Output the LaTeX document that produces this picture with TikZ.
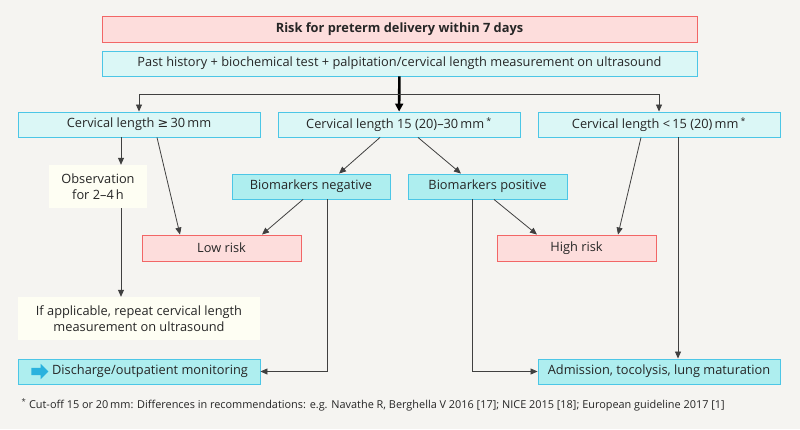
\documentclass[tikz,border=0pt]{standalone}
\usepackage{fontspec}
\setmainfont{Open Sans}
\newfontfamily\symfont{DejaVu Sans}
\usetikzlibrary{arrows.meta,shapes.arrows}

\definecolor{bg}{HTML}{F5F4F1}
\definecolor{riskfill}{HTML}{FDDDDC}
\definecolor{riskline}{HTML}{F26666}
\definecolor{stepfill}{HTML}{DBF7F6}
\definecolor{bmfill}{HTML}{AEEEEF}
\definecolor{stepline}{HTML}{4CC6E6}
\definecolor{notefill}{HTML}{FEFEF3}
\definecolor{iconblue}{HTML}{2AB2DE}
\colorlet{txt}{black!85}
\colorlet{link}{black!75}

\begin{document}
\begin{tikzpicture}[x=1pt, y=-1pt, font=\fontsize{12.8}{15.5}\selectfont, text=txt,
    riskbox/.style={draw=riskline, fill=riskfill, line width=0.9pt, inner sep=0pt},
    stepbox/.style={draw=stepline, fill=stepfill, line width=0.9pt, inner sep=0pt, minimum width=242pt, minimum height=25pt},
    bmbox/.style={stepbox, fill=bmfill, minimum width=158pt},
    notebox/.style={fill=notefill, inner sep=0pt, align=center},
    arr/.style={draw=link, line width=0.8pt, -{Triangle[length=7pt, width=6pt]}}]
  \fill[bg] (0, 0) rectangle (800, 429);
  \useasboundingbox (0, 0) rectangle (800, 429);
  \draw (399.5, 29)   node[riskbox, minimum width=595pt, minimum height=26pt] (risk) {\textbf{Risk for preterm delivery within 7 days}};
  \draw (399.5, 63.5) node[stepbox, minimum width=595pt] (exam) {Past history + biochemical test + palpitation/cervical length measurement on ultrasound};
  \draw (139, 124.5)  node[stepbox] (long) {Cervical length {\symfont ≥}\,30\,mm};
  \draw (399, 124.5)  node[stepbox] (mid) {Cervical length 15 (20)–30\,mm\,\textsuperscript{*}};
  \draw (659, 124.5)  node[stepbox] (short) {Cervical length <\,15 (20)\,mm\,\textsuperscript{*}};
  \draw (98, 186.5)   node[notebox, minimum width=98pt, minimum height=43pt] (obs) {Observation\\for 2–4\,h};
  \draw (311, 186.5)  node[bmbox] (neg) {Biomarkers negative};
  \draw (487.5, 186.5) node[bmbox, minimum width=159pt] (pos) {Biomarkers positive};
  \draw (221.5, 248)  node[riskbox, minimum width=159pt, minimum height=26pt] (low) {Low risk};
  \draw (576.5, 248)  node[riskbox, minimum width=159pt, minimum height=26pt] (high) {High risk};
  \draw (139, 318.5)  node[notebox, minimum width=242pt, minimum height=43pt] (repeat) {If applicable, repeat cervical length\\measurement on ultrasound};
  \draw (139, 371.5)  node[bmbox, minimum width=242pt] (disch) {\hspace*{22pt}Discharge/outpatient monitoring};
  \draw (659, 371.5)  node[bmbox, minimum width=242pt] (adm) {Admission, tocolysis, lung maturation};
  \node[single arrow, fill=iconblue, inner sep=3.5pt, minimum height=17pt, single arrow head extend=4pt] (icon) at ([xshift=20.5pt]disch.west) {};
  \coordinate (split) at (exam.south |- 0, 94);
  \draw[line width=2.6pt, black, -{Triangle[length=8pt, width=8pt]}] (exam) -- (mid);
  \draw[arr] (split) -| (long);
  \draw[arr] (split) -| (short);
  \draw[arr] ([xshift=-18pt]long.south) -- ([xshift=-18pt]long.south |- obs.north);
  \draw[arr] ([xshift=18pt]long.south) -- ([xshift=-41.5pt]low.north);
  \draw[arr] ([xshift=-19pt]mid.south) -- ([xshift=28pt]neg.north);
  \draw[arr] ([xshift=19pt]mid.south) -- ([xshift=-26.5pt]pos.north);
  \draw[arr] ([xshift=-8pt]neg.south) -- ([xshift=40.5pt]low.north);
  \draw[arr] ([xshift=6.5pt]pos.south) -- ([xshift=-39.5pt]high.north);
  \draw[arr] ([xshift=-18pt]short.south) -- ([xshift=41.5pt]high.north);
  \draw[arr] ([xshift=-18pt]long.south |- obs.south) -- ([xshift=-18pt]long.south |- repeat.north);
  \draw[arr] ([xshift=16pt]neg.south) |- (disch.east);
  \draw[arr] ([xshift=-15.5pt]pos.south) |- (adm.west);
  \draw[arr] ([xshift=19pt]short.south) -- ([xshift=19pt]adm.north);
  \node[anchor=west, font=\fontsize{10.9}{13}\selectfont] (note) at (18, 405) {\textsuperscript{*} Cut-off 15 or 20\,mm: Differences in recommendations: e.g. Navathe R, Berghella V 2016 [17]; NICE 2015 [18]; European guideline 2017 [1]};
\end{tikzpicture}
\end{document}
